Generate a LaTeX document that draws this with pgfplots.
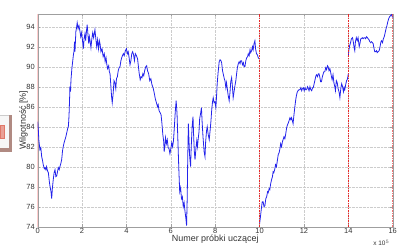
\documentclass[border=0pt]{standalone}
\usepackage{pgfplots}
\pgfplotsset{compat=1.18}
\usepackage{fontspec}
\setmainfont{Liberation Sans}
\definecolor{rosy}{RGB}{176,138,130}
\definecolor{salmon}{RGB}{225,120,105}
\definecolor{mblue}{RGB}{35,35,235}
\definecolor{mred}{RGB}{235,40,40}
\begin{document}
\begin{tikzpicture}
\useasboundingbox (0,0) rectangle (403bp,250bp);
% screenshot artefact on the left
\fill[gray!6] (0,98bp) rectangle (12bp,135bp);
\draw[gray!40] (0,135bp) -- (12bp,135bp);
\fill[rosy] (8.5bp,98bp) rectangle (12bp,135bp);
\fill[rosy] (0,98bp) rectangle (12bp,101.5bp);
\fill[salmon!70] (0,112bp) rectangle (4.5bp,125bp);
\draw[salmon] (0,112bp) rectangle (4.5bp,125bp);
\begin{axis}[
  at={(37.7bp,23.3bp)}, anchor=south west,
  scale only axis, width=355bp, height=213bp,
  xmin=0, xmax=16, ymin=74, ymax=95.3,
  xtick={0,2,...,16}, ytick={74,76,...,94},
  grid=major, grid style={densely dotted, gray!40, line width=0.4pt},
  tick align=inside, major tick length=2.5bp,
  axis line style={gray!75},
  tick style={gray!75},
  /pgf/number format/assume math mode=true,
  tick label style={font=\fontsize{7.5}{8}\selectfont, text=black!80},
  xticklabel style={yshift=1.5bp},
  yticklabel style={xshift=0.5bp},
  xlabel={Numer próbki uczącej},
  ylabel={Wilgotność [\%]},
  label style={font=\fontsize{9}{10}\selectfont, text=black!80},
  xlabel style={at={(axis description cs:0.5,-0.0577)}, anchor=center},
  ylabel style={at={(axis description cs:-0.04,0.5)}, anchor=center},
]
\addplot[mblue, line width=0.8pt] coordinates {
(0.00,84.5)(0.03,83.6)(0.05,82.7)(0.10,81.7)(0.14,81.9)(0.18,81.0)(0.22,80.6)(0.25,80.2)
(0.30,79.8)(0.33,79.9)(0.37,79.7)(0.40,80.0)(0.44,79.6)(0.48,79.4)(0.52,78.6)(0.55,78.1)
(0.60,77.5)(0.63,76.8)(0.66,77.8)(0.70,78.7)(0.74,79.4)(0.78,79.7)(0.82,79.0)(0.86,79.1)
(0.90,79.6)(0.93,79.9)(0.97,79.7)(1.00,80.0)(1.04,80.3)(1.08,80.7)(1.12,81.6)(1.15,82.0)
(1.19,82.4)(1.23,82.7)(1.27,83.0)(1.31,83.4)(1.35,83.8)(1.38,84.0)(1.40,84.6)(1.42,85.6)
(1.44,87.0)(1.45,88.0)(1.48,87.5)(1.50,88.7)(1.54,89.8)(1.58,90.6)(1.61,91.2)(1.64,91.6)
(1.66,92.5)(1.68,91.5)(1.72,93.5)(1.75,93.9)(1.78,94.4)(1.82,93.8)(1.86,94.1)(1.90,93.6)
(1.94,93.0)(1.98,93.4)(2.03,92.4)(2.06,91.8)(2.09,92.8)(2.13,93.3)(2.16,92.6)(2.20,93.6)
(2.23,94.2)(2.27,93.1)(2.30,92.3)(2.33,93.0)(2.36,92.6)(2.40,91.9)(2.44,92.8)(2.48,93.4)
(2.52,92.9)(2.55,93.3)(2.58,93.7)(2.62,92.8)(2.66,92.0)(2.70,92.7)(2.74,91.8)(2.78,92.6)
(2.81,92.3)(2.85,91.5)(2.90,91.8)(2.95,91.0)(3.00,91.3)(3.04,90.5)(3.08,90.9)(3.11,90.3)
(3.15,89.8)(3.20,90.1)(3.23,89.5)(3.26,89.3)(3.30,88.0)(3.33,87.0)(3.36,86.4)(3.40,87.3)
(3.44,88.6)(3.48,88.4)(3.52,87.8)(3.55,88.8)(3.59,89.0)(3.63,89.6)(3.67,89.9)(3.71,90.0)
(3.75,90.6)(3.80,91.0)(3.86,91.3)(3.90,91.1)(3.95,91.6)(4.00,91.8)(4.04,91.3)(4.08,91.5)
(4.12,90.9)(4.16,90.2)(4.20,90.6)(4.24,91.3)(4.28,91.5)(4.32,91.2)(4.36,90.6)(4.40,91.3)
(4.45,91.1)(4.50,90.8)(4.53,90.2)(4.57,89.4)(4.62,88.7)(4.66,89.0)(4.70,88.9)(4.74,89.3)
(4.78,89.1)(4.82,89.6)(4.87,90.0)(4.91,90.1)(4.95,89.6)(5.00,89.3)(5.05,88.6)(5.10,88.8)
(5.15,88.2)(5.20,87.9)(5.25,87.4)(5.30,86.8)(5.35,86.4)(5.40,86.0)(5.43,86.2)(5.47,85.6)
(5.52,85.4)(5.56,85.2)(5.60,84.3)(5.64,83.2)(5.68,82.5)(5.70,81.5)(5.73,82.0)(5.76,82.9)
(5.80,82.3)(5.84,82.7)(5.88,81.9)(5.92,81.8)(5.96,81.3)(6.00,81.8)(6.04,82.4)(6.08,82.0)
(6.12,82.6)(6.16,84.0)(6.20,85.5)(6.24,86.6)(6.28,85.3)(6.32,82.5)(6.36,79.8)(6.40,77.5)
(6.44,77.9)(6.48,76.8)(6.52,77.0)(6.56,76.0)(6.60,76.4)(6.64,75.5)(6.68,74.8)(6.71,74.1)
(6.74,77.0)(6.76,80.5)(6.79,84.3)(6.82,82.5)(6.85,81.0)(6.89,80.0)(6.92,82.0)(6.96,84.0)
(7.00,85.0)(7.03,83.0)(7.06,81.5)(7.09,80.7)(7.13,81.8)(7.17,82.6)(7.20,82.0)(7.23,82.7)
(7.27,83.5)(7.30,84.8)(7.34,85.3)(7.38,85.9)(7.41,84.5)(7.45,83.0)(7.50,81.5)(7.54,81.0)
(7.57,82.5)(7.61,83.6)(7.64,84.0)(7.68,83.3)(7.73,82.7)(7.77,83.6)(7.81,84.6)(7.84,85.6)
(7.88,86.5)(7.91,86.9)(7.95,86.4)(7.99,86.5)(8.03,85.9)(8.06,87.0)(8.09,88.3)(8.13,89.4)
(8.18,90.5)(8.22,90.7)(8.26,90.6)(8.29,90.4)(8.33,89.6)(8.37,89.2)(8.41,88.8)(8.44,88.6)
(8.48,87.9)(8.51,88.4)(8.54,87.9)(8.58,87.2)(8.63,86.6)(8.67,87.5)(8.70,88.5)(8.74,88.9)
(8.77,88.2)(8.81,86.9)(8.85,87.5)(8.89,88.1)(8.93,88.6)(8.97,89.4)(9.00,89.9)(9.04,90.3)
(9.08,90.5)(9.12,90.3)(9.15,90.6)(9.19,90.6)(9.23,90.2)(9.27,90.4)(9.30,90.0)(9.34,90.0)
(9.38,90.6)(9.42,90.9)(9.46,91.0)(9.49,91.3)(9.53,91.1)(9.57,91.7)(9.60,91.4)(9.64,91.6)
(9.68,92.0)(9.71,91.7)(9.75,92.3)(9.79,92.6)(9.82,91.8)(9.86,91.3)(9.90,91.2)(9.94,90.9)
(9.98,90.8)(10.00,90.8)
};
\addplot[mblue, line width=0.8pt] coordinates {
(10.00,74.3)(10.04,75.0)(10.08,75.8)(10.12,76.5)(10.16,76.5)(10.20,76.0)(10.24,76.1)(10.28,76.8)
(10.32,77.0)(10.36,77.5)(10.39,77.4)(10.43,77.8)(10.46,77.7)(10.50,78.3)(10.54,78.7)(10.58,79.0)
(10.61,79.5)(10.64,79.4)(10.68,79.7)(10.72,80.2)(10.76,80.0)(10.80,80.6)(10.84,81.2)(10.88,81.4)
(10.91,81.7)(10.95,82.3)(10.99,82.0)(11.03,82.5)(11.06,82.7)(11.10,83.0)(11.14,82.8)(11.18,83.3)
(11.22,83.9)(11.26,84.2)(11.30,84.4)(11.33,84.6)(11.37,84.9)(11.41,84.7)(11.44,84.9)(11.48,84.6)
(11.51,84.3)(11.55,85.2)(11.59,86.0)(11.63,86.7)(11.66,87.1)(11.69,87.4)(11.73,87.6)(11.78,87.7)
(11.82,87.7)(11.86,87.9)(11.90,87.6)(11.93,87.8)(11.97,87.9)(12.01,87.6)(12.05,87.9)(12.08,87.7)
(12.12,87.7)(12.16,88.0)(12.20,87.8)(12.23,87.6)(12.27,88.0)(12.31,87.7)(12.35,87.6)(12.39,87.9)
(12.42,87.9)(12.46,88.3)(12.50,88.7)(12.54,89.1)(12.57,89.2)(12.61,89.0)(12.65,89.3)(12.68,89.3)
(12.72,88.9)(12.75,88.5)(12.79,88.5)(12.83,89.0)(12.87,89.3)(12.90,89.5)(12.94,89.5)(12.98,89.9)
(13.02,89.7)(13.06,90.1)(13.09,90.0)(13.13,89.6)(13.17,89.8)(13.20,89.5)(13.24,89.0)(13.27,88.7)
(13.31,89.2)(13.35,88.4)(13.39,88.0)(13.42,87.6)(13.46,88.6)(13.50,88.4)(13.54,87.8)(13.58,87.5)
(13.62,86.9)(13.66,87.8)(13.70,88.3)(13.74,88.0)(13.78,87.5)(13.81,87.9)(13.84,87.7)(13.88,88.2)
(13.92,88.6)(13.95,88.7)(13.98,89.0)(14.00,89.3)
};
\addplot[mblue, line width=0.8pt] coordinates {
(14.00,91.0)(14.02,91.6)(14.06,92.1)(14.10,92.4)(14.14,92.8)(14.19,92.9)(14.23,92.4)(14.26,91.9)
(14.29,91.6)(14.32,92.5)(14.36,92.9)(14.40,92.6)(14.44,92.9)(14.49,92.0)(14.53,92.4)(14.56,92.8)
(14.59,92.8)(14.63,92.9)(14.67,92.8)(14.71,92.9)(14.74,92.9)(14.78,92.8)(14.82,93.0)(14.86,92.9)
(14.89,92.8)(14.93,92.7)(14.97,92.5)(15.01,92.4)(15.05,92.5)(15.09,92.4)(15.12,92.3)(15.15,91.9)
(15.19,91.5)(15.23,91.5)(15.27,91.6)(15.30,91.4)(15.34,91.5)(15.39,91.6)(15.43,92.0)(15.47,92.5)
(15.50,92.6)(15.54,92.4)(15.58,92.8)(15.62,93.0)(15.66,93.4)(15.70,93.8)(15.74,94.1)(15.78,94.5)
(15.82,94.8)(15.86,95.0)(15.90,95.1)(15.95,95.2)(15.98,95.0)(16.00,94.9)
};
\addplot[red!55, line width=0.6pt] coordinates {(0,74) (0,95.3)};
\addplot[mred, dash pattern=on 1.5bp off 1bp, line width=1pt] coordinates {(10,74) (10,95.3)};
\addplot[mred, dash pattern=on 1.5bp off 1bp, line width=1pt] coordinates {(14,74) (14,95.3)};
\addplot[mred, dash pattern=on 1.5bp off 1bp, line width=1pt] coordinates {(16,74) (16,95.3)};
\end{axis}
\node[font=\fontsize{6.5}{7}\selectfont, text=black!80, anchor=east] at (393bp,7bp) {x 10$^{5}$};
\end{tikzpicture}
\end{document}
